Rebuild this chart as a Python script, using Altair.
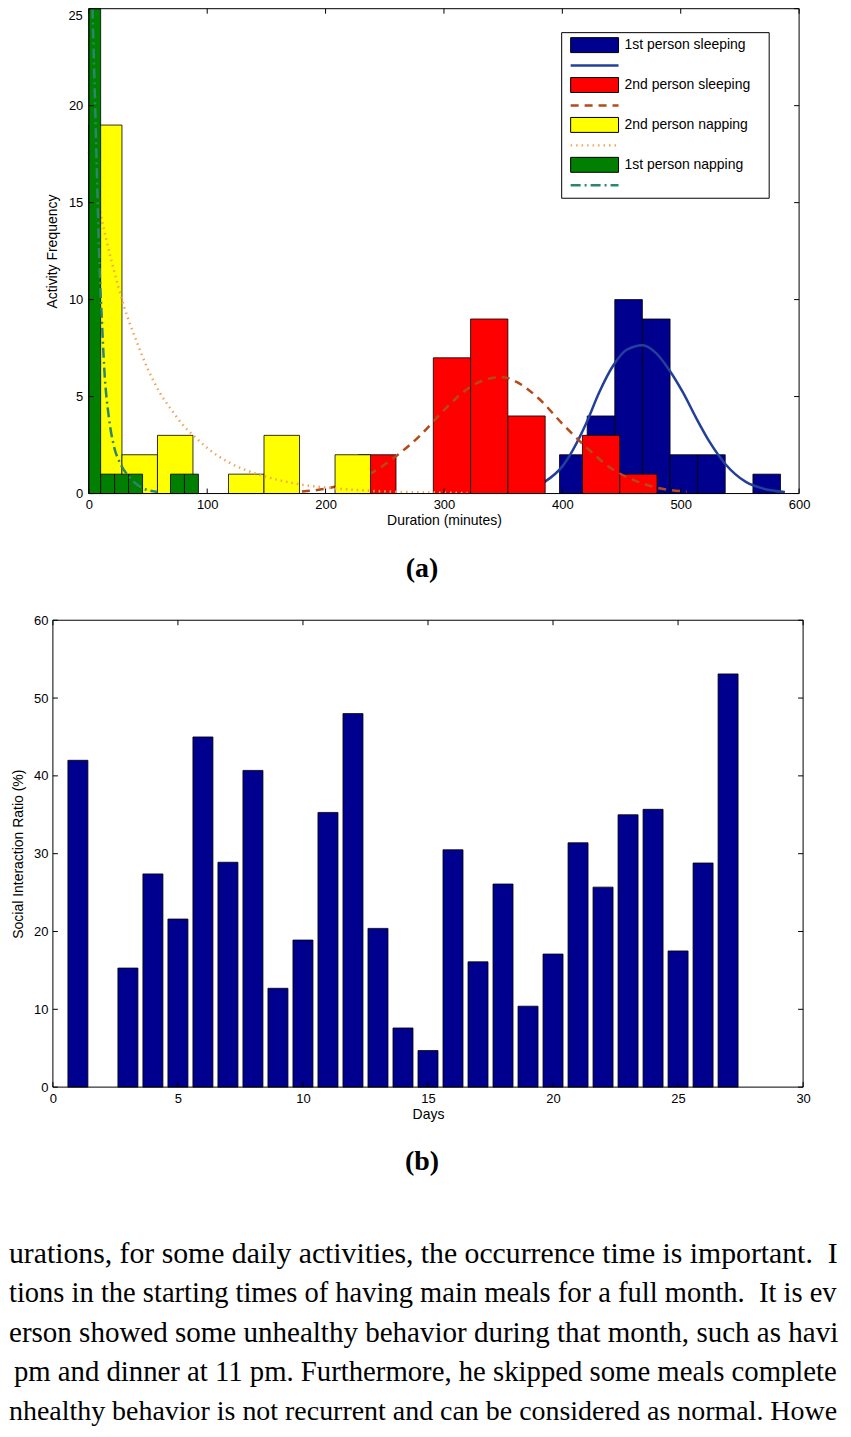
import altair as alt
import pandas as pd

# ----------------------------- data (a) -----------------------------
series_names = ["1st person sleeping", "2nd person sleeping",
                "2nd person napping", "1st person napping"]

sleep1_edges = [397.6, 421.0, 444.3, 467.6, 491.0, 514.3, 537.6, 561.0, 584.3]
sleep1_counts = [2, 4, 10, 9, 2, 2, 0, 1]
sleep2_edges = [228.0, 259.5, 291.0, 322.5, 354.0, 385.5, 417.0, 448.5, 480.0]
sleep2_counts = [2, 0, 7, 9, 4, 0, 3, 1]
nap2_edges = [-2.0, 28.0, 58.0, 88.0, 118.0, 148.0, 178.0, 208.0, 238.0]
nap2_counts = [19, 2, 3, 0, 1, 3, 0, 2]
nap1_edges = [-1.8, 10.0, 21.8, 33.6, 45.4, 57.2, 69.0, 80.8, 92.6]
nap1_counts = [25, 1, 1, 1, 0, 0, 1, 1]

sleep1_fit_x = [360, 375, 385, 400, 420, 431, 443, 454, 468, 479, 490, 502, 513, 524, 538, 555, 570, 588]
sleep1_fit_y = [0.1, 0.3, 0.6, 1.4, 3.6, 5.2, 6.6, 7.4, 7.65, 7.25, 6.4, 5.2, 3.9, 2.7, 1.5, 0.6, 0.25, 0.08]
sleep2_fit_x = [180, 200, 220, 240, 260, 280, 300, 320, 340, 350, 360, 380, 400, 420, 440, 460, 480, 505]
sleep2_fit_y = [0.1, 0.25, 0.55, 1.1, 1.95, 3.0, 4.3, 5.4, 5.95, 6.0, 5.8, 4.9, 3.6, 2.4, 1.35, 0.7, 0.3, 0.1]
nap2_fit_x = [0, 10, 20, 30, 40, 50, 60, 70, 80, 90, 100, 120, 140, 160, 180, 200, 230, 260, 290, 320]
nap2_fit_y = [17.6, 14.4, 11.8, 9.6, 7.9, 6.4, 5.2, 4.3, 3.5, 2.9, 2.35, 1.55, 1.05, 0.7, 0.46, 0.31, 0.17, 0.09, 0.05, 0.03]
nap1_fit_x = [3.1, 4.5, 6, 7.5, 9, 11, 13, 17, 21, 27, 35, 45, 58]
nap1_fit_y = [25.0, 21.9, 18.5, 15.0, 11.8, 9.0, 6.5, 3.9, 2.5, 1.5, 0.8, 0.3, 0.08]

duration_ticks = [0, 100, 200, 300, 400, 500, 600]
frequency_ticks = [0, 5, 10, 15, 20, 25]

# ----------------------------- data (b) -----------------------------
days = list(range(1, 28))
social_ratio = [42.0, 0, 15.3, 27.4, 21.6, 45.0, 28.9, 40.7, 12.7, 18.9, 35.3, 48.0, 20.4, 7.6,
                4.7, 30.5, 16.1, 26.1, 10.4, 17.1, 31.4, 25.7, 35.0, 35.7, 17.5, 28.8, 53.1]
day_ticks = [0, 5, 10, 15, 20, 25, 30]
ratio_ticks = [0, 10, 20, 30, 40, 50, 60]

caption_a = "(a)"
caption_b = "(b)"
paper_lines = [
    "urations, for some daily activities, the occurrence time is important.\u00a0 I",
    "tions in the starting times of having main meals for a full month.\u00a0 It is ev",
    "erson showed some unhealthy behavior during that month, such as havi",
    "pm and dinner at 11 pm. Furthermore, he skipped some meals complete",
    "nhealthy behavior is not recurrent and can be considered as normal. Howe",
]

# ----------------------------- styles / layout -----------------------------
SANS = "Liberation Sans"
SERIF = "Liberation Serif"
BAR_COLORS = ["#00008f", "#ff0000", "#ffff00", "#007f00"]
FIT_COLORS = ["#22409a", "#b5491a", "#f5a352", "#2b8670"]
FIT_DASH = [None, [8, 6], [1.5, 4], [10, 4, 2, 4]]
TICK_LEN = 5

# every panel's view starts at the left edge of the page; the plot box sits inside it
# panel (a): view 792 x 592, plot box x 80..792, y 6..492
A_W, A_H, A_L, A_R, A_T, A_B = 792, 592, 80, 792, 6, 492
# panel (b): view 796 x 608, plot box x 44..796, y 25..493
B_W, B_H, B_L, B_R, B_T, B_B = 796, 608, 44, 796, 25, 493
# text block (fits inside the page so nothing is rescaled)
T_W, T_H = 835, 223


def make_axis(values, title, label_pad, title_pad, offset, label_size=13):
    return alt.Axis(values=values, ticks=False, tickSize=0, domain=False, grid=False,
                    labelPadding=label_pad, labelFontSize=label_size, labelFont=SANS,
                    labelColor="black", labelFlush=False, labelOverlap=False,
                    title=title, titleFont=SANS, titleFontSize=14, titleFontWeight="normal",
                    titleColor="black", titlePadding=title_pad, format="d", offset=offset)


def hist_df(edges, counts, lo):
    rows = [{"x0": max(edges[i], lo), "x1": edges[i + 1], "count": c, "base": 0}
            for i, c in enumerate(counts) if c > 0]
    return pd.DataFrame(rows)


def one_row(**kw):
    return pd.DataFrame({k: [v] for k, v in kw.items()})


def frame_and_ticks(xt, yt, xs, ys, xa, ya, L, R, T, B):
    tx = pd.DataFrame({"t": xt})
    ty = pd.DataFrame({"t": yt})
    rule = dict(color="black", strokeWidth=1)
    return [
        alt.Chart(one_row(a=0)).mark_rect(fill="transparent", stroke="black", strokeWidth=1).encode(
            x=alt.value(L), x2=alt.value(R), y=alt.value(T), y2=alt.value(B)),
        alt.Chart(tx).mark_rule(**rule).encode(
            x=alt.X("t:Q", scale=xs, axis=xa), y=alt.value(B), y2=alt.value(B - TICK_LEN)),
        alt.Chart(tx).mark_rule(**rule).encode(
            x=alt.X("t:Q", scale=xs, axis=xa), y=alt.value(T), y2=alt.value(T + TICK_LEN)),
        alt.Chart(ty).mark_rule(**rule).encode(
            y=alt.Y("t:Q", scale=ys, axis=ya), x=alt.value(L), x2=alt.value(L + TICK_LEN)),
        alt.Chart(ty).mark_rule(**rule).encode(
            y=alt.Y("t:Q", scale=ys, axis=ya), x=alt.value(R), x2=alt.value(R - TICK_LEN)),
    ]


# ----------------------------- chart (a) -----------------------------
xs_a = alt.Scale(domain=[0, 600], nice=False, zero=False, range=[A_L, A_R])
ys_a = alt.Scale(domain=[0, 25], nice=False, range=[A_B, A_T])
xa_a = make_axis(duration_ticks, "Duration (minutes)", 5, 2, -(A_H - A_B))
# the top label (25) is drawn separately so that it stays inside the page
ya_a = make_axis(frequency_ticks[:-1], "Activity Frequency", 6, 9, -A_L)

hists = [(sleep1_edges, sleep1_counts), (sleep2_edges, sleep2_counts),
         (nap2_edges, nap2_counts), (nap1_edges, nap1_counts)]
fits = [(sleep1_fit_x, sleep1_fit_y), (sleep2_fit_x, sleep2_fit_y),
        (nap2_fit_x, nap2_fit_y), (nap1_fit_x, nap1_fit_y)]

layers_a = []
for i in range(4):
    e, c = hists[i]
    layers_a.append(
        alt.Chart(hist_df(e, c, 0)).mark_rect(fill=BAR_COLORS[i], stroke="black",
                                              strokeWidth=0.8).encode(
            x=alt.X("x0:Q", scale=xs_a, axis=xa_a), x2="x1:Q",
            y=alt.Y("count:Q", scale=ys_a, axis=ya_a), y2="base:Q"))
    fx, fy = fits[i]
    kw = dict(color=FIT_COLORS[i], strokeWidth=2.5, interpolate="monotone")
    if FIT_DASH[i] is not None:
        kw["strokeDash"] = FIT_DASH[i]
    layers_a.append(
        alt.Chart(pd.DataFrame({"x": fx, "y": fy})).mark_line(**kw).encode(
            x=alt.X("x:Q", scale=xs_a, axis=xa_a), y=alt.Y("y:Q", scale=ys_a, axis=ya_a)))

layers_a += frame_and_ticks(duration_ticks, frequency_ticks, xs_a, ys_a, xa_a, ya_a,
                            A_L, A_R, A_T, A_B)

# top y tick label
layers_a.append(alt.Chart(pd.DataFrame({"v": frequency_ticks[-1:]})).mark_text(
    align="right", baseline="top", font=SANS, fontSize=13, color="black", dy=1).encode(
    y=alt.Y("v:Q", scale=ys_a, axis=ya_a), x=alt.value(A_L - 6), text="v:Q"))

# legend box (page 562..770 x 30..196)
layers_a.append(alt.Chart(one_row(a=0)).mark_rect(fill="white", stroke="black", strokeWidth=1).encode(
    x=alt.value(554), x2=alt.value(762), y=alt.value(30), y2=alt.value(196)))
for i, name in enumerate(series_names):
    cy = 42.5 + 40 * i
    ly = 63 + 40 * i
    layers_a.append(alt.Chart(one_row(a=0)).mark_rect(fill=BAR_COLORS[i], stroke="black",
                                                      strokeWidth=1).encode(
        x=alt.value(563), x2=alt.value(611), y=alt.value(cy - 7.5), y2=alt.value(cy + 7.5)))
    kw = dict(color=FIT_COLORS[i], strokeWidth=2.5)
    if FIT_DASH[i] is not None:
        kw["strokeDash"] = FIT_DASH[i]
    layers_a.append(alt.Chart(one_row(a=0)).mark_rule(**kw).encode(
        x=alt.value(563), x2=alt.value(611), y=alt.value(ly)))
    layers_a.append(alt.Chart(one_row(label=name)).mark_text(
        align="left", baseline="middle", font=SANS, fontSize=14, color="black").encode(
        x=alt.value(617), y=alt.value(cy), text="label:N"))

layers_a.append(alt.Chart(one_row(label=caption_a)).mark_text(
    align="center", baseline="middle", font=SERIF, fontSize=28, fontWeight="bold",
    color="black").encode(x=alt.value(414), y=alt.value(568), text="label:N"))

chart_a = alt.layer(*layers_a).properties(
    width=A_W, height=A_H, view=alt.ViewBackground(stroke="transparent"))

# ----------------------------- chart (b) -----------------------------
xs_b = alt.Scale(domain=[0, 30], nice=False, zero=False, range=[B_L, B_R])
ys_b = alt.Scale(domain=[0, 60], nice=False, range=[B_B, B_T])
xa_b = make_axis(day_ticks, "Days", 5, 2, -(B_H - B_B))
ya_b = make_axis(ratio_ticks, "Social Interaction Ratio (%)", 5, 8, -B_L)

df_b = pd.DataFrame({"day": days, "ratio": social_ratio})
df_b = df_b[df_b["ratio"] > 0].copy()
df_b["x0"] = df_b["day"] - 0.4
df_b["x1"] = df_b["day"] + 0.4
df_b["base"] = 0

layers_b = [
    alt.Chart(df_b).mark_rect(fill=BAR_COLORS[0], stroke="black", strokeWidth=0.8).encode(
        x=alt.X("x0:Q", scale=xs_b, axis=xa_b), x2="x1:Q",
        y=alt.Y("ratio:Q", scale=ys_b, axis=ya_b), y2="base:Q")
]
layers_b += frame_and_ticks(day_ticks, ratio_ticks, xs_b, ys_b, xa_b, ya_b, B_L, B_R, B_T, B_B)
layers_b.append(alt.Chart(one_row(label=caption_b)).mark_text(
    align="center", baseline="middle", font=SERIF, fontSize=28, fontWeight="bold",
    color="black").encode(x=alt.value(414), y=alt.value(568), text="label:N"))

chart_b = alt.layer(*layers_b).properties(
    width=B_W, height=B_H, view=alt.ViewBackground(stroke="transparent"))

# ----------------------------- paper text -----------------------------
# justified paragraph: each line is sized to fill the column width
TXT_X = [0, 0, 0, 5, 0]
TXT_Y = [59, 98.5, 138, 177.5, 217]
TXT_SIZE = [29.8, 28.6, 29.1, 28.8, 28.0]
layers_t = []
for i, line in enumerate(paper_lines):
    layers_t.append(alt.Chart(one_row(line=line)).mark_text(
        align="left", baseline="alphabetic", font=SERIF, fontSize=TXT_SIZE[i], color="black",
        clip=True).encode(x=alt.value(TXT_X[i]), y=alt.value(TXT_Y[i]), text="line:N"))

chart_t = alt.layer(*layers_t).properties(
    width=T_W, height=T_H, view=alt.ViewBackground(stroke="transparent"))

chart = alt.vconcat(
    chart_a, chart_b, chart_t, spacing=0,
    padding={"top": -8, "left": 0, "right": 0, "bottom": 0}, background="white"
)

chart.save("out.html", embed_options={"renderer": "svg", "actions": False})
